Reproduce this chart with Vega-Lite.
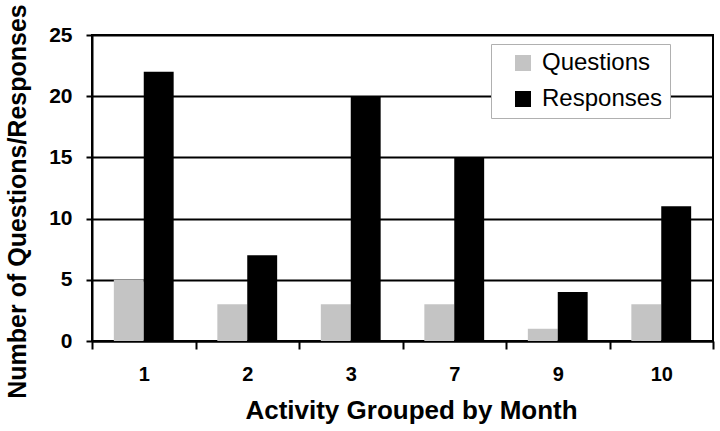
{
  "$schema": "https://vega.github.io/schema/vega-lite/v6.json",
  "width": 621,
  "height": 306,
  "autosize": "none",
  "padding": {"left": 92, "top": 35, "right": 7, "bottom": 90},
  "background": "white",
  "config": {
    "font": "Liberation Sans",
    "view": {"stroke": "black", "strokeWidth": 2}
  },
  "data": {
    "values": [
      {"month": "1", "series": "Questions", "count": 5},
      {"month": "1", "series": "Responses", "count": 22},
      {"month": "2", "series": "Questions", "count": 3},
      {"month": "2", "series": "Responses", "count": 7},
      {"month": "3", "series": "Questions", "count": 3},
      {"month": "3", "series": "Responses", "count": 20},
      {"month": "7", "series": "Questions", "count": 3},
      {"month": "7", "series": "Responses", "count": 15},
      {"month": "9", "series": "Questions", "count": 1},
      {"month": "9", "series": "Responses", "count": 4},
      {"month": "10", "series": "Questions", "count": 3},
      {"month": "10", "series": "Responses", "count": 11}
    ]
  },
  "mark": {"type": "bar"},
  "encoding": {
    "x": {
      "field": "month",
      "type": "ordinal",
      "sort": ["1", "2", "3", "7", "9", "10"],
      "scale": {"paddingInner": 0, "paddingOuter": 0},
      "axis": {
        "title": "Activity Grouped by Month",
        "titleFontSize": 26,
        "titleFontWeight": "bold",
        "titleColor": "black",
        "titlePadding": 13,
        "titleX": 319,
        "labelAngle": 0,
        "labelFontSize": 20,
        "labelFontWeight": "bold",
        "labelColor": "black",
        "labelPadding": 15,
        "tickBand": "extent",
        "tickSize": 8,
        "tickColor": "black",
        "tickWidth": 2,
        "domainColor": "black",
        "domainWidth": 2,
        "grid": false
      }
    },
    "xOffset": {
      "field": "series",
      "type": "nominal",
      "scale": {"paddingInner": 0, "paddingOuter": 0.73}
    },
    "y": {
      "field": "count",
      "type": "quantitative",
      "scale": {"domain": [0, 25]},
      "axis": {
        "values": [0, 5, 10, 15, 20, 25],
        "title": "Number of Questions/Responses",
        "titleFontSize": 25,
        "titleFontWeight": "bold",
        "titleColor": "black",
        "titlePadding": 18,
        "titleY": 166,
        "labelFontSize": 21,
        "labelFontWeight": "bold",
        "labelColor": "black",
        "labelPadding": 14,
        "tickSize": 6,
        "tickColor": "black",
        "tickWidth": 2,
        "domainColor": "black",
        "domainWidth": 2,
        "grid": true,
        "gridColor": "black",
        "gridWidth": 2,
        "gridOpacity": 1
      }
    },
    "color": {
      "field": "series",
      "type": "nominal",
      "scale": {"domain": ["Questions", "Responses"], "range": ["#c4c4c4", "black"]},
      "legend": {
        "title": null,
        "orient": "none",
        "legendX": 399,
        "legendY": 9,
        "symbolType": "square",
        "symbolSize": 256,
        "symbolStrokeWidth": 0,
        "symbolOffset": 13,
        "labelFontSize": 24,
        "labelColor": "black",
        "labelOffset": 7,
        "rowPadding": 12,
        "padding": 7,
        "fillColor": "white",
        "strokeColor": "#b0b0b0",
        "labelLimit": 250
      }
    }
  }
}
